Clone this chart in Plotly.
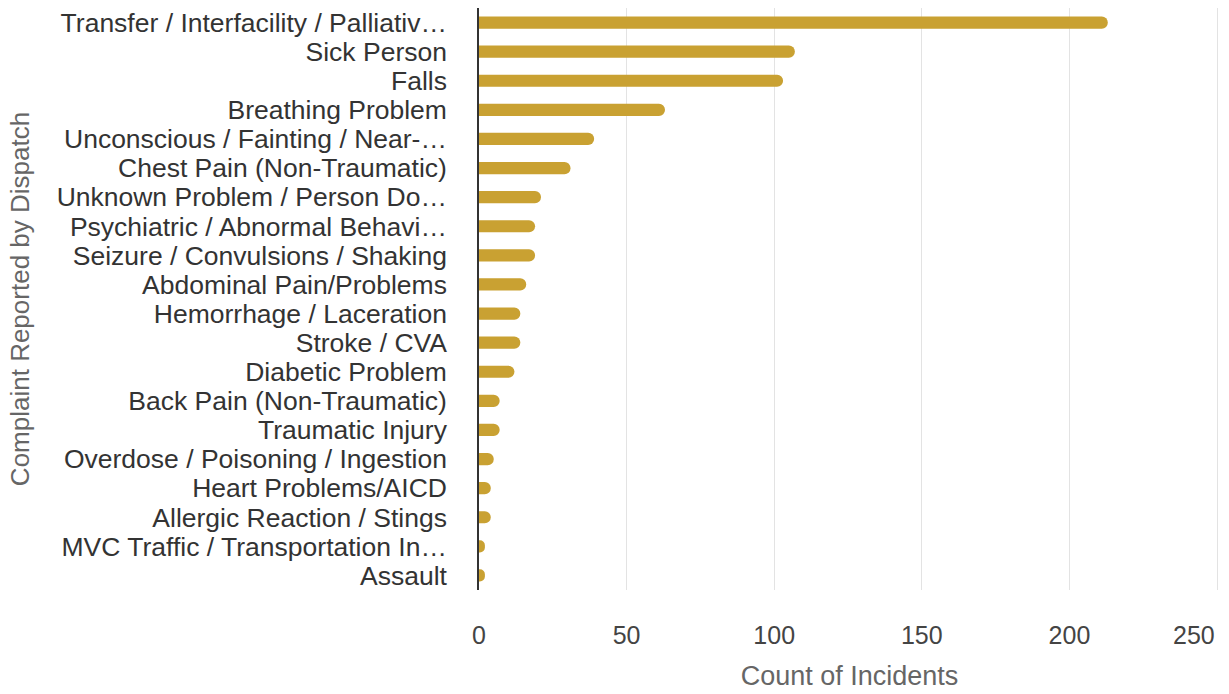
import plotly.graph_objects as go

categories = [
    "Transfer / Interfacility / Palliativ…",
    "Sick Person",
    "Falls",
    "Breathing Problem",
    "Unconscious / Fainting / Near-…",
    "Chest Pain (Non-Traumatic)",
    "Unknown Problem / Person Do…",
    "Psychiatric / Abnormal Behavi…",
    "Seizure / Convulsions / Shaking",
    "Abdominal Pain/Problems",
    "Hemorrhage / Laceration",
    "Stroke / CVA",
    "Diabetic Problem",
    "Back Pain (Non-Traumatic)",
    "Traumatic Injury",
    "Overdose / Poisoning / Ingestion",
    "Heart Problems/AICD",
    "Allergic Reaction / Stings",
    "MVC Traffic / Transportation In…",
    "Assault",
]
counts = [213, 107, 103, 63, 39, 31, 21, 19, 19, 16, 14, 14, 12, 7, 7, 5, 4, 4, 2, 2]
x_ticks = [0, 50, 100, 150, 200, 250]
x_ticktext = ["0", "50", "100", "150", "200", ""]

fig = go.Figure(go.Bar(
    y=categories, x=counts, orientation="h",
    marker=dict(color="#C9A132", cornerradius=6, line=dict(width=0)),
))

fig.update_layout(
    width=1229, height=694,
    margin=dict(l=479, r=9, t=8, b=102),
    paper_bgcolor="white", plot_bgcolor="white",
    bargap=0.58,
    showlegend=False,
    font=dict(family="Liberation Sans, Arial, sans-serif"),
    xaxis=dict(
        range=[0, 251], tickvals=x_ticks, ticktext=x_ticktext,
        showgrid=True, gridcolor="#e3e3e3", gridwidth=1,
        zeroline=False,
        tickfont=dict(size=25, color="#444"),
        ticklabelstandoff=28,
        title=dict(text="Count of Incidents", font=dict(size=27, color="#666"), standoff=18),
    ),
    yaxis=dict(
        autorange="reversed",
        tickmode="array", tickvals=categories, ticktext=categories,
        showline=True, linecolor="#333", linewidth=1.5,
        showgrid=False,
        tickfont=dict(size=26.5, color="#333"),
        ticklabelstandoff=25,
        title=dict(text="Complaint Reported by Dispatch", font=dict(size=26, color="#666"), standoff=20),
    ),
    annotations=[dict(
        x=250, y=0, xref="x", yref="paper", text=str(x_ticks[-1]),
        xanchor="right", yanchor="middle", yshift=-45, showarrow=False,
        font=dict(size=25, color="#444"),
    )],
)

fig.write_html("out.html")
